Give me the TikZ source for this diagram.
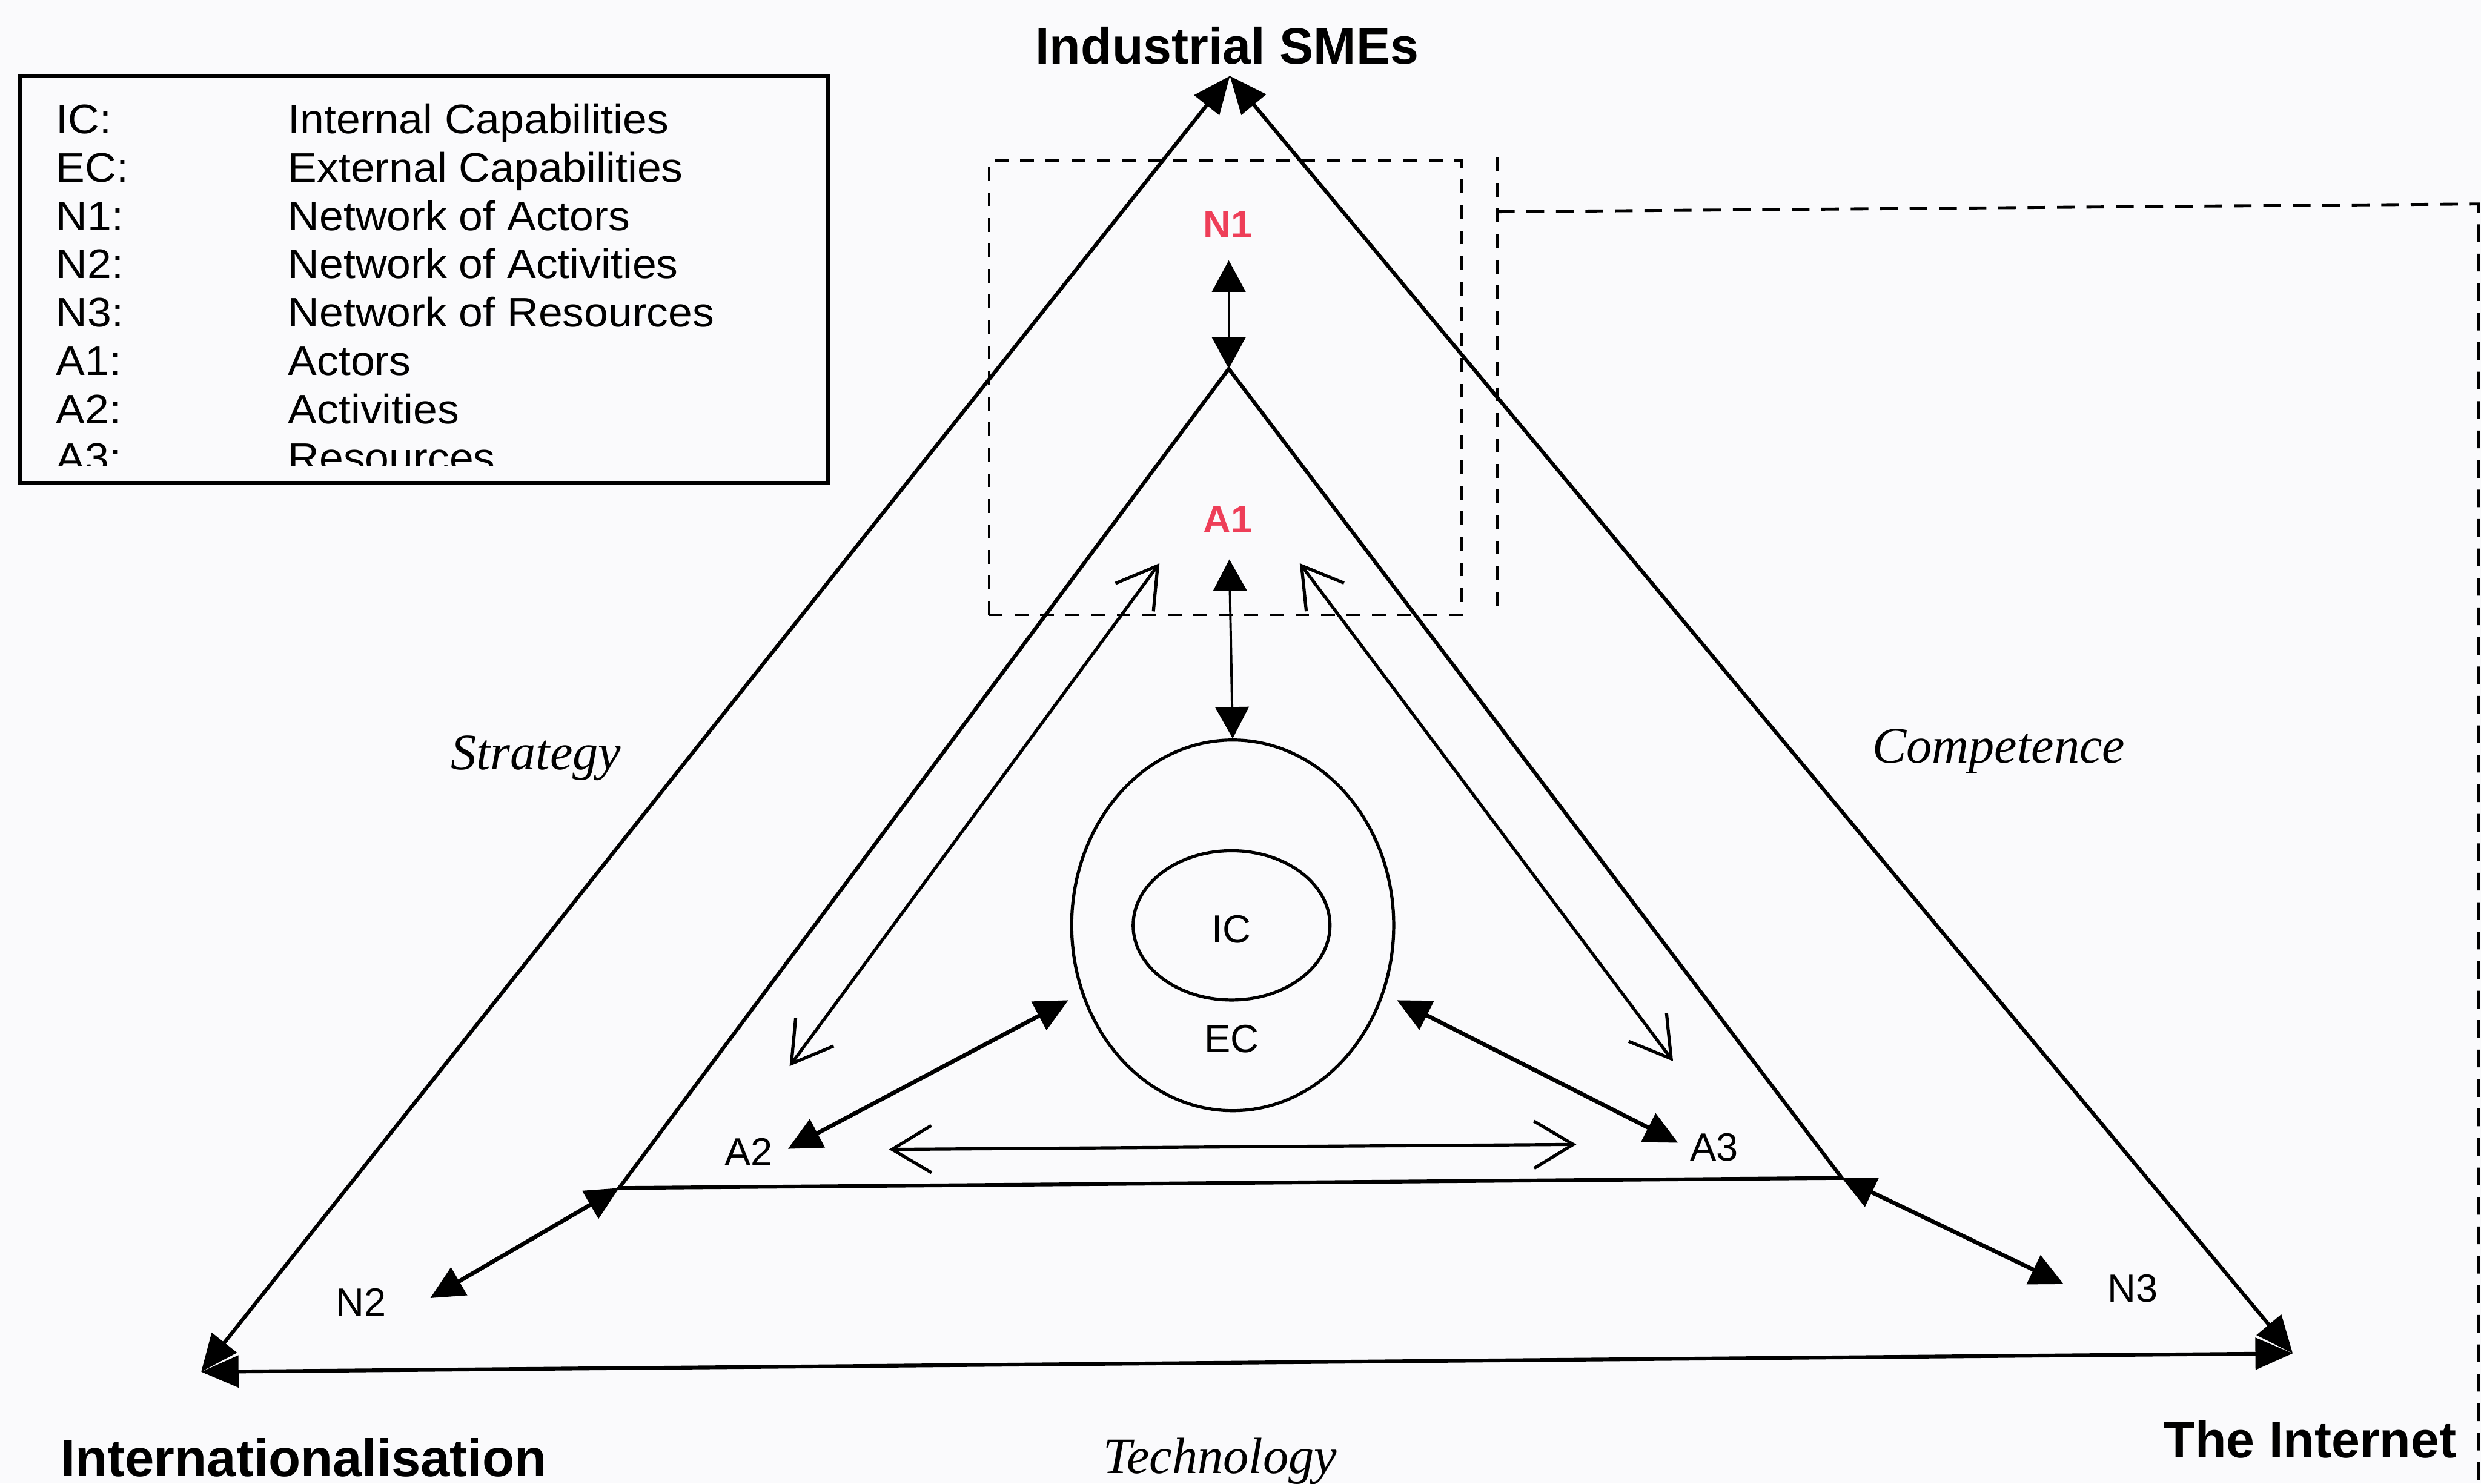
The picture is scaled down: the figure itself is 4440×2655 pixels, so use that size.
\documentclass[tikz,border=0pt]{standalone}
\usepackage{fontspec}
\setmainfont{Liberation Sans}
\newfontfamily\timesfont{Liberation Serif}
\newfontfamily\legendfont[FakeStretch=1.05]{Liberation Sans}
\usetikzlibrary{arrows.meta,shapes.geometric}
\definecolor{pagebg}{RGB}{250,250,252}
\definecolor{netred}{RGB}{238,62,88}

\begin{document}
\begin{tikzpicture}[x=0.01cm,y=-0.01cm,
  side/.style={line width=1.9pt},
  sidearrow/.style={line width=1.9pt,{Triangle[length=19pt,width=16pt]}-{Triangle[length=19pt,width=16pt]}},
  solidlink/.style={line width=2.1pt,{Triangle[length=17pt,width=16pt]}-{Triangle[length=17pt,width=16pt]}},
  thinlink/.style={line width=1.2pt,{Triangle[length=16pt,width=17pt]}-{Triangle[length=16pt,width=17pt]}},
  openlink/.style={line width=1.6pt,{Straight Barb[length=20pt,width=24pt,line width=1.6pt]}-{Straight Barb[length=20pt,width=24pt,line width=1.6pt]}},
  frame/.style={dash pattern=on 7pt off 6pt,line width=1.3pt},
  lead/.style={dash pattern=on 9pt off 6pt,line width=1.5pt},
  legtext/.style={anchor=base west,inner sep=0pt,font=\fontsize{21}{24}\legendfont},
  lbl/.style={anchor=base,inner sep=0pt,font=\fontsize{20}{24}\selectfont},
  redlbl/.style={anchor=base,inner sep=0pt,text=netred,font=\fontsize{19.5}{23}\selectfont\bfseries},
  corner/.style={inner sep=0pt,font=\fontsize{26}{30}\selectfont\bfseries},
  theme/.style={anchor=base,inner sep=0pt,font=\fontsize{26}{30}\selectfont\timesfont\itshape},
  capsule/.style={ellipse,draw,line width=1.6pt,inner sep=0pt}
]
% page
\fill[pagebg] (0,0) rectangle (4440,2655);
\useasboundingbox (0,0) rectangle (4440,2655);

% ---------- legend ----------
\node[draw,line width=2pt,minimum width=14.45cm,minimum height=7.28cm,inner sep=0pt] (legend) at (758.5,500) {};
\begin{scope}
  \clip (45,145) rectangle (1470,833);
  \foreach \k/\d [count=\i from 0] in {IC:/Internal Capabilities,EC:/External Capabilities,N1:/Network of Actors,N2:/Network of Activities,N3:/Network of Resources,A1:/Actors,A2:/Activities,A3:/Resources}{
    \node[legtext] (legkey\i) at (100,{239+86.5*\i}) {\k};
    \node[legtext] (legdesc\i) at (515,{239+86.5*\i}) {\d};
  }
\end{scope}

% ---------- corner labels ----------
\node[corner,anchor=base] (sme) at (2196,114) {Industrial SMEs};
\node[corner,anchor=base west,font=\fontsize{26.8}{30}\selectfont\bfseries] (intl) at (108,2642) {Internationalisation};
\node[corner,anchor=base west] (inet) at (3872,2609) {The Internet};

% ---------- theme labels ----------
\node[theme] (strategy) at (959,1377) {Strategy};
\node[theme] (competence) at (3577,1365) {Competence};
\node[theme] (technology) at (2183,2637) {Technology};

% ---------- outer triangle ----------
\coordinate (apex) at (2201,136);
\coordinate (bl) at (360,2455);
\coordinate (br) at (4103,2422);
\draw[sidearrow] (bl) -- (apex);
\draw[sidearrow] (br) -- (apex);
\draw[sidearrow] (bl) -- (br);

% ---------- inner triangle ----------
\coordinate (ia) at (2199,660);
\coordinate (il) at (1108,2126);
\coordinate (ir) at (3296,2108);
\draw[side,line join=miter] (il) -- (ia) -- (ir) -- cycle;

% ---------- capability ellipses ----------
\node[capsule,minimum width=5.76cm,minimum height=6.63cm] (ec) at (2206,1656) {};
\node[capsule,minimum width=3.52cm,minimum height=2.67cm] (ic) at (2204,1656) {};
\node[lbl] (iclbl) at (2204,1687) {IC};
\node[lbl] (eclbl) at (2204,1883) {EC};

% ---------- network / actor labels ----------
\node[redlbl] (n1) at (2197,425) {N1};
\node[redlbl] (a1) at (2197,953) {A1};
\node[lbl] (a2) at (1340,2086) {A2};
\node[lbl] (a3) at (3068,2077) {A3};
\node[lbl] (n2) at (646,2355) {N2};
\node[lbl] (n3) at (3817,2330) {N3};

% ---------- arrow end points ----------
\coordinate (n1tip) at (2199,466);
\coordinate (a1tip) at (2200,1001);
\coordinate (ltop) at (2075,1008);
\coordinate (lbot) at (1413,1908);
\coordinate (rtop) at (2326,1008);
\coordinate (rbot) at (2994,1899);
\coordinate (a2tip) at (1410,2056);
\coordinate (ecleft) at (1912,1790);
\coordinate (a3tip) at (3003,2045);
\coordinate (ecright) at (2500,1790);
\coordinate (a2h) at (1591,2057);
\coordinate (a3h) at (2821,2048);
\coordinate (n2tip) at (770,2323);
\coordinate (n3tip) at (3693,2298);

% ---------- connectors ----------
\draw[thinlink] (n1tip) -- (ia);
\draw[thinlink] (a1tip) -- (ec.north);
\draw[openlink] (lbot) -- (ltop);
\draw[openlink] (rbot) -- (rtop);
\draw[openlink] (a2h) -- (a3h);
\draw[solidlink] (a2tip) -- (ecleft);
\draw[solidlink] (a3tip) -- (ecright);
\draw[solidlink] (n2tip) -- (il);
\draw[solidlink] (n3tip) -- (ir);

% ---------- dashed frames ----------
\node[draw,frame,minimum width=8.45cm,minimum height=8.12cm,inner sep=0pt] (zoomframe) at (2192.5,694) {};
\coordinate (guidetop) at (2679,282);
\coordinate (guidebot) at (2679,1100);
\coordinate (leadstart) at (2679,379);
\coordinate (leadcorner) at (4436,365);
\coordinate (leadend) at (4436,2655);
\draw[frame] (guidetop) -- (guidebot);
\draw[lead] (leadstart) -- (leadcorner) -- (leadend);
\end{tikzpicture}
\end{document}
